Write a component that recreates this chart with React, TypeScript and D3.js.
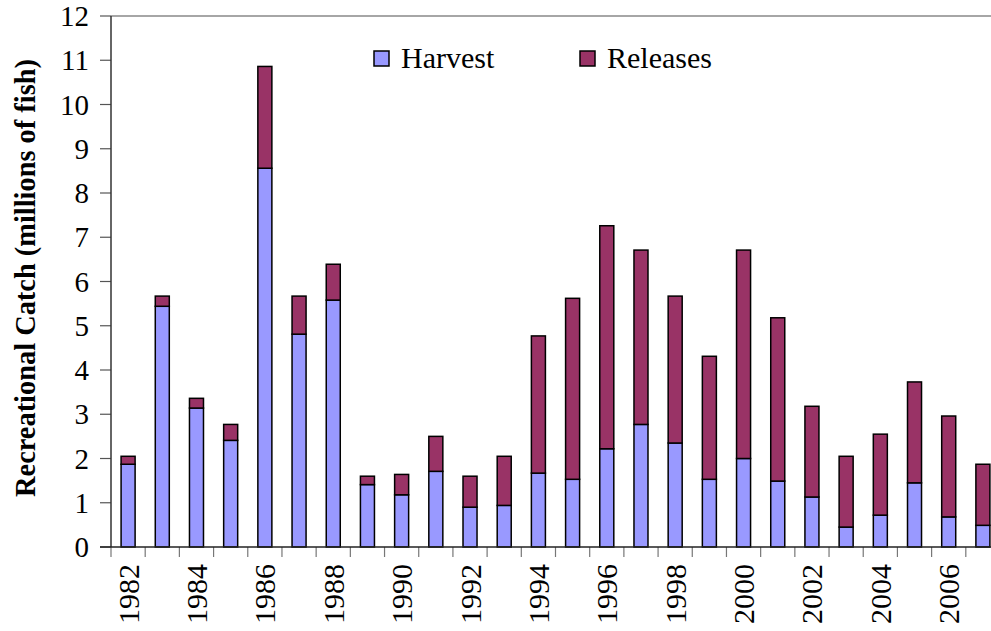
import React from "react";
import * as d3 from "d3";

const years = [
  1982, 1983, 1984, 1985, 1986, 1987, 1988, 1989, 1990, 1991, 1992, 1993, 1994,
  1995, 1996, 1997, 1998, 1999, 2000, 2001, 2002, 2003, 2004, 2005, 2006, 2007,
];
// millions of fish
const harvest = [
  1.87, 5.44, 3.14, 2.41, 8.56, 4.81, 5.58, 1.41, 1.18, 1.71, 0.9, 0.94, 1.67,
  1.53, 2.22, 2.77, 2.35, 1.53, 2.0, 1.49, 1.13, 0.45, 0.72, 1.45, 0.68, 0.49,
];
const totals = [
  2.05, 5.67, 3.36, 2.77, 10.86, 5.67, 6.39, 1.6, 1.64, 2.5, 1.6, 2.05, 4.77,
  5.62, 7.26, 6.71, 5.67, 4.31, 6.71, 5.18, 3.18, 2.05, 2.55, 3.73, 2.96, 1.87,
];
const releases = totals.map((t, i) => +(t - harvest[i]).toFixed(2));
const yTicks = d3.range(0, 13);
const seriesNames = ["Harvest", "Releases"];
const colors = ["#9999FF", "#993366"];

const W = 991;
const H = 631;
const margin = { top: 16, left: 111, bottom: 547, right: 1000 };
const font = '"Liberation Serif", "DejaVu Serif", serif';

export default function App() {
  const x = d3
    .scaleBand<number>()
    .domain(years)
    .range([margin.left, margin.right])
    .paddingInner(0.59)
    .paddingOuter(0.295);
  const y = d3.scaleLinear().domain([0, 12]).range([margin.bottom, margin.top]);

  const rows = years.map((yr, i) => ({ year: yr, Harvest: harvest[i], Releases: releases[i] }));
  const stacked = d3.stack<any>().keys(seriesNames)(rows);

  const step = x.step();
  const half = (step - x.bandwidth()) / 2;
  const bounds = years.map((yr) => (x(yr) as number) - half);
  bounds.push(bounds[bounds.length - 1] + step);

  const txt = { fontFamily: font };

  return (
    <svg
      width={W}
      height={H}
      style={{ position: "absolute", left: 0, top: 0, background: "#fff", fontFamily: font }}
    >
      {/* top border */}
      <line x1={margin.left} x2={margin.right} y1={y(12)} y2={y(12)} stroke="#888" strokeWidth={1.5} />

      {/* bars */}
      {stacked.map((s, si) => (
        <g key={s.key}>
          {s.map((d, i) => (
            <rect
              key={i}
              x={x(years[i])}
              y={y(d[1])}
              width={x.bandwidth()}
              height={y(d[0]) - y(d[1])}
              fill={colors[si]}
              stroke="#000"
              strokeWidth={1.5}
            />
          ))}
        </g>
      ))}

      {/* y axis */}
      {yTicks.map((t) => (
        <g key={t}>
          <line x1={margin.left - 11} x2={margin.left} y1={y(t)} y2={y(t)} stroke="#555" strokeWidth={1.2} />
          <text x={89} y={y(t)} dy="0.35em" textAnchor="end" fontSize={29} style={txt}>
            {t}
          </text>
        </g>
      ))}
      <line x1={margin.left} x2={margin.left} y1={y(12)} y2={y(0)} stroke="#333" strokeWidth={1.5} />

      {/* x axis */}
      {bounds.map((b, i) => (
        <line key={i} x1={b} x2={b} y1={y(0)} y2={y(0) + 10} stroke="#777" strokeWidth={1.2} />
      ))}
      <line x1={margin.left - 11} x2={margin.right} y1={y(0)} y2={y(0)} stroke="#222" strokeWidth={1.5} />
      {years
        .filter((yr) => yr % 2 === 0)
        .map((yr) => {
          const cx = (x(yr) as number) + x.bandwidth() / 2;
          return (
            <text
              key={yr}
              transform={`translate(${cx},564) rotate(-90)`}
              textAnchor="end"
              dy="0.35em"
              fontSize={30}
              style={txt}
            >
              {yr}
            </text>
          );
        })}

      {/* y title */}
      <text
        transform={`translate(35,278) rotate(-90)`}
        textAnchor="middle"
        fontSize={28.4}
        fontWeight="bold"
        style={txt}
      >
        Recreational Catch  (millions of fish)
      </text>

      {/* legend */}
      {seriesNames.map((n, i) => {
        const lx = i === 0 ? 374 : 580;
        return (
          <g key={n}>
            <rect x={lx} y={51} width={15} height={15} fill={colors[i]} stroke="#000" strokeWidth={1.5} />
            <text x={lx + 27} y={68} fontSize={30} style={txt}>
              {n}
            </text>
          </g>
        );
      })}
    </svg>
  );
}
